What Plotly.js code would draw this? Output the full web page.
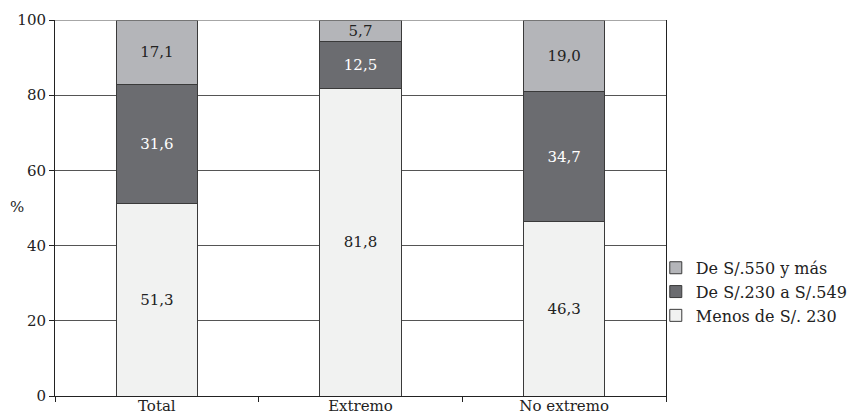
<!DOCTYPE html>
<html>
<head>
<meta charset="utf-8">
<script src="https://cdn.plot.ly/plotly-3.0.1.min.js"></script>
<style>
  html, body { margin: 0; padding: 0; background: #fff; }
  #chart { width: 855px; height: 416px; }
</style>
</head>
<body>
<div id="chart"></div>
<script>
// Categories on the x axis
const categories = ['Total', 'Extremo', 'No extremo'];

// Income bands (percent of households), stacked bottom to top
const seriesNames = ['Menos de S/. 230', 'De S/.230 a S/.549', 'De S/.550 y más'];
const menos230 = [51.3, 81.8, 46.3];
const de230a549 = [31.6, 12.5, 34.7];
const de550ymas = [17.1, 5.7, 19.0];

const yTicks = [0, 20, 40, 60, 80, 100];

const FONT = "'DejaVu Serif', serif";
const fills = ['#f1f2f1', '#6b6c70', '#b4b5b9'];
const textColors = ['#222', '#ffffff', '#222'];
const values = [menos230, de230a549, de550ymas];

const traces = values.map((vals, i) => ({
  type: 'bar',
  name: seriesNames[i],
  x: categories,
  y: vals,
  marker: { color: fills[i], line: { color: '#3a3a3a', width: 1 } },
  texttemplate: '%{y:.1f}',
  textposition: 'inside',
  insidetextanchor: 'middle',
  constraintext: 'none',
  textfont: { family: FONT, size: 15, color: textColors[i] },
  hoverinfo: 'skip'
}));

const layout = {
  width: 855,
  height: 416,
  margin: { l: 55, r: 189, t: 20, b: 20, autoexpand: false },
  paper_bgcolor: '#ffffff',
  plot_bgcolor: '#ffffff',
  separators: ',.',
  barmode: 'stack',
  bargap: 0.6,
  showlegend: true,
  uniformtext: { minsize: 15, mode: 'show' },
  font: { family: FONT, size: 15, color: '#222' },
  xaxis: {
    type: 'category',
    showgrid: false,
    showline: true,
    linecolor: '#222',
    linewidth: 1,
    ticks: 'outside',
    tickson: 'boundaries',
    ticklen: 5,
    tickcolor: '#222',
    ticklabelstandoff: -4,
    tickfont: { family: FONT, size: 15, color: '#222' },
    fixedrange: true
  },
  yaxis: {
    range: [0, 100],
    tickvals: yTicks,
    ticktext: yTicks.map(String),
    showgrid: true,
    gridcolor: '#555',
    gridwidth: 1,
    showline: true,
    linecolor: '#222',
    linewidth: 1,
    mirror: true,
    ticks: 'outside',
    ticklen: 5,
    tickcolor: '#222',
    zeroline: false,
    tickfont: { family: FONT, size: 15, color: '#222' },
    fixedrange: true
  },
  legend: {
    xref: 'container',
    yref: 'container',
    x: 0.767,
    xanchor: 'left',
    y: 0.397,
    yanchor: 'top',
    traceorder: 'reversed',
    itemwidth: 30,
    bgcolor: 'rgba(0,0,0,0)',
    font: { family: FONT, size: 16, color: '#222' }
  },
  // Lighter rule along the top edge of the plot
  shapes: [{
    type: 'line', xref: 'paper', yref: 'y',
    x0: 0, x1: 1, y0: 100, y1: 100,
    line: { color: '#8a8a8a', width: 1.5 }
  }],
  annotations: [{
    text: '%',
    xref: 'paper', yref: 'paper',
    x: -0.062, y: 0.502,
    xanchor: 'center', yanchor: 'middle',
    showarrow: false,
    font: { family: FONT, size: 15, color: '#222' }
  }]
};

Plotly.newPlot('chart', traces, layout, { staticPlot: true, displayModeBar: false });
</script>
</body>
</html>
